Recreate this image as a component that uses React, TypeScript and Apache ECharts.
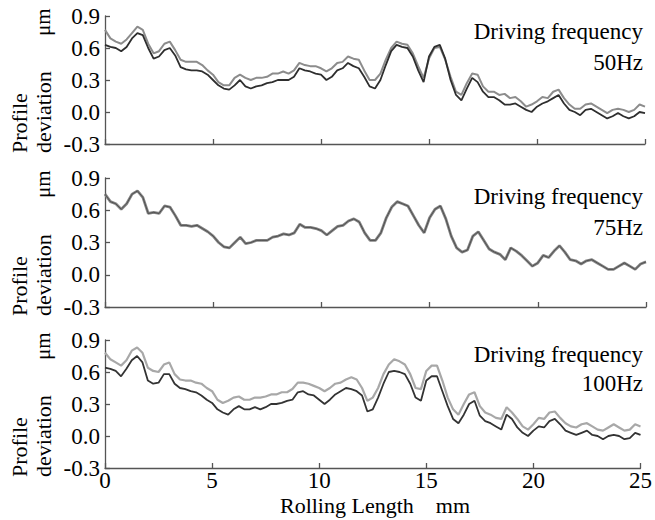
import React, { useEffect, useRef } from 'react';
import * as echarts from 'echarts';

// Rolling length positions (mm)
const xMm = [
  0, 0.25, 0.5, 0.75, 1, 1.25, 1.5, 1.75, 2, 2.25, 2.5, 2.75, 3, 3.25, 3.5, 3.75, 4, 4.25, 4.5, 4.75,
  5, 5.25, 5.5, 5.75, 6, 6.25, 6.5, 6.75, 7, 7.25, 7.5, 7.75, 8, 8.25, 8.5, 8.75, 9, 9.25, 9.5, 9.75,
  10, 10.25, 10.5, 10.75, 11, 11.25, 11.5, 11.75, 12, 12.25, 12.5, 12.75, 13, 13.25, 13.5, 13.75, 14, 14.25, 14.5, 14.75,
  15, 15.25, 15.5, 15.75, 16, 16.25, 16.5, 16.75, 17, 17.25, 17.5, 17.75, 18, 18.25, 18.5, 18.75, 19, 19.25, 19.5, 19.75,
  20, 20.25, 20.5, 20.75, 21, 21.25, 21.5, 21.75, 22, 22.25, 22.5, 22.75, 23, 23.25, 23.5, 23.75, 24, 24.25, 24.5, 24.75, 25,
];

// 50 Hz: upper (light) and lower (dark) traces, µm
const f50Upper = [
  0.77, 0.69, 0.66, 0.64, 0.68, 0.74, 0.80, 0.77, 0.64, 0.55, 0.57, 0.64, 0.66, 0.58, 0.49, 0.47, 0.47, 0.47, 0.44, 0.39,
  0.35, 0.28, 0.25, 0.25, 0.32, 0.35, 0.32, 0.30, 0.32, 0.32, 0.33, 0.36, 0.36, 0.38, 0.36, 0.39, 0.46, 0.44, 0.43, 0.43,
  0.41, 0.38, 0.41, 0.46, 0.47, 0.52, 0.50, 0.49, 0.39, 0.30, 0.30, 0.36, 0.49, 0.60, 0.66, 0.64, 0.63, 0.55, 0.43, 0.32,
  0.50, 0.60, 0.61, 0.49, 0.33, 0.19, 0.16, 0.27, 0.36, 0.35, 0.24, 0.19, 0.19, 0.16, 0.17, 0.13, 0.14, 0.10, 0.05, 0.07,
  0.10, 0.14, 0.13, 0.19, 0.21, 0.13, 0.07, 0.03, 0.03, 0.07, 0.08, 0.05, 0.02, -0.01, 0.02, 0.03, 0.02, 0.00, 0.02, 0.07, 0.05,
];
const f50Lower = [
  0.63, 0.61, 0.60, 0.57, 0.61, 0.69, 0.74, 0.72, 0.60, 0.50, 0.52, 0.58, 0.60, 0.53, 0.42, 0.40, 0.39, 0.39, 0.38, 0.35,
  0.30, 0.25, 0.22, 0.21, 0.25, 0.30, 0.24, 0.22, 0.24, 0.25, 0.27, 0.28, 0.30, 0.30, 0.30, 0.33, 0.41, 0.39, 0.38, 0.36,
  0.35, 0.30, 0.33, 0.39, 0.41, 0.46, 0.43, 0.41, 0.33, 0.24, 0.22, 0.30, 0.44, 0.57, 0.63, 0.61, 0.60, 0.52, 0.39, 0.28,
  0.52, 0.61, 0.63, 0.50, 0.30, 0.16, 0.11, 0.22, 0.32, 0.28, 0.19, 0.14, 0.14, 0.11, 0.07, 0.07, 0.08, 0.05, 0.02, 0.00,
  0.05, 0.08, 0.10, 0.13, 0.16, 0.08, 0.02, 0.00, -0.03, 0.02, 0.03, 0.00, -0.03, -0.06, -0.04, -0.01, -0.04, -0.06, -0.04, 0.00, -0.01,
];

// 75 Hz: traces nearly coincide
const f75 = [
  0.75, 0.68, 0.66, 0.61, 0.66, 0.75, 0.78, 0.72, 0.57, 0.58, 0.57, 0.64, 0.63, 0.55, 0.46, 0.46, 0.45, 0.46, 0.43, 0.40,
  0.36, 0.30, 0.26, 0.25, 0.30, 0.35, 0.29, 0.30, 0.32, 0.32, 0.32, 0.35, 0.36, 0.38, 0.37, 0.39, 0.47, 0.44, 0.44, 0.43,
  0.41, 0.37, 0.41, 0.45, 0.46, 0.50, 0.52, 0.49, 0.39, 0.32, 0.32, 0.39, 0.53, 0.63, 0.68, 0.66, 0.64, 0.55, 0.46, 0.39,
  0.53, 0.61, 0.64, 0.52, 0.36, 0.25, 0.21, 0.23, 0.36, 0.40, 0.32, 0.24, 0.21, 0.19, 0.14, 0.25, 0.22, 0.18, 0.13, 0.08,
  0.11, 0.18, 0.16, 0.22, 0.27, 0.21, 0.14, 0.13, 0.10, 0.13, 0.14, 0.11, 0.08, 0.05, 0.05, 0.08, 0.11, 0.08, 0.05, 0.10, 0.12,
];

// 100 Hz: upper (light) and lower (dark) traces
const f100Upper = [
  0.78, 0.72, 0.69, 0.66, 0.71, 0.80, 0.83, 0.78, 0.64, 0.61, 0.60, 0.67, 0.69, 0.58, 0.53, 0.52, 0.52, 0.50, 0.49, 0.45,
  0.42, 0.34, 0.31, 0.33, 0.36, 0.37, 0.34, 0.34, 0.36, 0.36, 0.37, 0.39, 0.39, 0.41, 0.41, 0.44, 0.50, 0.50, 0.49, 0.47,
  0.45, 0.42, 0.45, 0.49, 0.50, 0.53, 0.55, 0.53, 0.45, 0.33, 0.36, 0.45, 0.58, 0.67, 0.72, 0.70, 0.67, 0.58, 0.45, 0.44,
  0.61, 0.66, 0.66, 0.52, 0.36, 0.25, 0.20, 0.30, 0.39, 0.41, 0.28, 0.22, 0.20, 0.17, 0.16, 0.27, 0.22, 0.16, 0.09, 0.06,
  0.11, 0.17, 0.16, 0.22, 0.23, 0.17, 0.12, 0.09, 0.08, 0.11, 0.12, 0.09, 0.06, 0.05, 0.08, 0.11, 0.08, 0.05, 0.06, 0.11, 0.09,
];
const f100Lower = [
  0.64, 0.63, 0.61, 0.56, 0.63, 0.71, 0.75, 0.69, 0.52, 0.49, 0.50, 0.58, 0.58, 0.49, 0.45, 0.44, 0.42, 0.41, 0.38, 0.34,
  0.31, 0.25, 0.22, 0.20, 0.25, 0.28, 0.25, 0.25, 0.27, 0.25, 0.27, 0.30, 0.30, 0.31, 0.33, 0.34, 0.41, 0.42, 0.39, 0.38,
  0.34, 0.30, 0.34, 0.39, 0.42, 0.45, 0.44, 0.42, 0.38, 0.23, 0.25, 0.36, 0.49, 0.60, 0.61, 0.60, 0.58, 0.49, 0.36, 0.33,
  0.52, 0.56, 0.56, 0.42, 0.28, 0.16, 0.12, 0.20, 0.30, 0.33, 0.19, 0.14, 0.12, 0.09, 0.06, 0.20, 0.16, 0.08, 0.03, 0.00,
  0.05, 0.09, 0.08, 0.14, 0.16, 0.11, 0.05, 0.03, 0.01, 0.03, 0.05, 0.01, 0.00, -0.03, 0.00, 0.01, 0.00, -0.03, -0.02, 0.03, 0.01,
];

const panelLabels = ['50Hz', '75Hz', '100Hz'];
const labelLine1 = 'Driving frequency';
const yTicks = [-0.3, 0.0, 0.3, 0.6, 0.9];
const xTicks = [0, 5, 10, 15, 20, 25];
const xName = 'Rolling Length    mm';

export default function App() {
  const ref = useRef<HTMLDivElement>(null);
  useEffect(() => {
    const chart = echarts.init(ref.current!, null, { renderer: 'svg' });
    const FONT = 'Liberation Serif';
    const tops = [16, 178, 340];
    const heights = [128, 129, 128];
    const widths = [540, 541, 540];
    const l1 = [15, 18.5, 14.5];
    const l2 = [46.5, 49.5, 43.5];
    const AX = '#555';

    const grids = tops.map((t, i) => ({ left: 105, top: t, width: widths[i], height: heights[i] }));
    const xAxes = tops.map((_, i) => ({
      type: 'value', gridIndex: i, min: xTicks[0], max: xTicks[xTicks.length - 1], interval: 5,
      axisLine: { show: true, onZero: false, lineStyle: { color: AX, width: 1.3 } },
      axisTick: { show: true, inside: true, length: 5, lineStyle: { color: AX, width: 1.3 } },
      axisLabel: { show: i === 2, color: '#000', fontFamily: FONT, fontSize: 23, margin: 1 },
      splitLine: { show: false },
    }));
    const yAxes = tops.map((_, i) => ({
      type: 'value', gridIndex: i, min: yTicks[0], max: yTicks[yTicks.length - 1], interval: 0.3,
      axisLine: { show: true, onZero: false, lineStyle: { color: AX, width: 1.3 } },
      axisTick: { show: true, inside: true, length: 5, lineStyle: { color: AX, width: 1.3 } },
      axisLabel: {
        color: '#000', fontFamily: FONT, fontSize: 23, margin: 5,
        formatter: (v: number) => (Math.abs(v) < 1e-9 ? 0 : v).toFixed(1),
      },
      splitLine: { show: false },
    }));

    const pts = (arr: number[]) => arr.map((v, k) => [xMm[k], v]);
    const line = (idx: number, data: number[], color: string, width: number, z: number) => ({
      type: 'line', xAxisIndex: idx, yAxisIndex: idx, data: pts(data), showSymbol: false,
      symbol: 'none', lineStyle: { color, width }, z, silent: true,
    });
    const series = [
      line(0, f50Upper, '#8c8c8c', 2, 2),
      line(0, f50Lower, '#2e2e2e', 1.8, 3),
      line(1, f75, '#858585', 2.8, 2),
      line(1, f75, '#4a4a4a', 0.9, 3),
      line(2, f100Upper, '#a8a8a8', 2.2, 2),
      line(2, f100Lower, '#333333', 1.8, 3),
    ];

    const txt = (text: string, x: number, y: number, size: number, align: string, rot = 0) => ({
      type: 'text', x, y, rotation: rot,
      style: {
        text, fill: '#000', font: `${size}px "Liberation Serif", serif`,
        fontFamily: FONT, fontSize: size, textAlign: align, textVerticalAlign: 'middle',
      },
    });

    const graphic: any[] = [];
    tops.forEach((t, i) => {
      graphic.push(txt(labelLine1, 643, t + l1[i], 23, 'right'));
      graphic.push(txt(panelLabels[i], 643, t + l2[i], 23, 'right'));
      const bottom = t + heights[i];
      graphic.push(txt('Profile', 19, bottom + 9, 22, 'left', Math.PI / 2));
      graphic.push(txt('deviation', 43, bottom + 9, 22, 'left', Math.PI / 2));
      graphic.push(txt('μm', 43, t + 20, 21, 'left', Math.PI / 2));
    });
    graphic.push(txt(xName, 375, 505, 22, 'center'));

    chart.setOption({
      animation: false,
      backgroundColor: '#fff',
      textStyle: { fontFamily: FONT },
      grid: grids,
      xAxis: xAxes,
      yAxis: yAxes,
      series,
      graphic,
    });
    return () => chart.dispose();
  }, []);
  return <div ref={ref} style={{ position: 'absolute', left: 0, top: 0, width: 655, height: 520 }} />;
}
